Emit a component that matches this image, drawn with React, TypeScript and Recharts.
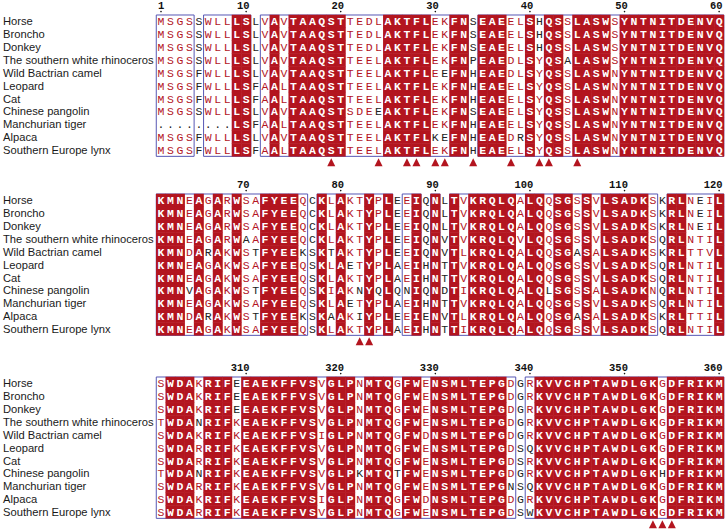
import { ScatterChart, Scatter, XAxis, YAxis, ReferenceArea } from "recharts";

// species shown on the left of every block
const SPECIES = [
  "Horse",
  "Broncho",
  "Donkey",
  "The southern white rhinoceros",
  "Wild Bactrian camel",
  "Leopard",
  "Cat",
  "Chinese pangolin",
  "Manchurian tiger",
  "Alpaca",
  "Southern Europe lynx",
];

// residues 1-60
const SEQ_A = [
  "MSGSSWLLLSLVAVTAAQSTTEDLAKTFLEKFNSEAEELSHQSSLASWSYNTNITDENVQ",
  "MSGSSWLLLSLVAVTAAQSTTEDLAKTFLEKFNSEAEELSHQSSLASWSYNTNITDENVQ",
  "MSGSSWLLLSLVAVTAAQSTTEDLAKTFLEKFNSEAEELSHQSSLASWSYNTNITDENVQ",
  "MSGSSWLLLSLVAVTAAQSTTEELAKTFLEKFNPEAEDLSYQSALASWSYNTNITDENVQ",
  "MSGSFWLLLSLVAVTAAQSTTEELAKTFLEEFNHEAEDLSYQSSLASWNYNTNITDENVQ",
  "MSGSFWLLLSFAALTAAQSTTEELAKTFLEKFNHEAEELSYQSSLASWNYNTNITDENVQ",
  "MSGSFWLLLSFAALTAAQSTTEELAKTFLEKFNHEAEELSYQSSLASWNYNTNITDENVQ",
  "MSGSSWLLLSLVAVTAAQSTSDEEAKTFLEKFNSEAEELSYQSSLASWNYNTNITDENVQ",
  "--------LSFAALTAAQSTTEELAKTFLEKFNHEAEELSYQSSLASWNYNTNITDENVQ",
  "MSGSFWLLLSLVAVTAAQSTTEELAKTFLKEFNHEAEDRSYQSSLASWNYNTNITDENVQ",
  "MSGSFWLLLSFAALTAAQSTTEELAKTFLEKFNHEAEELSYQSSLASWNYNTNITDENVQ",
];

// residues 61-120
const SEQ_B = [
  "KMNEAGARWSAFYEEQCKLAKTYPLEEIQNLTVKRQLQALQQSGSSVLSADKSKRLNEIL",
  "KMNEAGARWSAFYEEQCKLAKTYPLEEIQNLTVKRQLQALQQSGSSVLSADKSKRLNEIL",
  "KMNEAGARWSAFYEEQCKLAKTYPLEEIQNLTVKRQLQALQQSGSSVLSADKSKRLNEIL",
  "KMNEAGARWAAFYEEQCKLAKTYPLEEIQNVTVKRQLQVLQQSGSSVLSADKSQRLNTIL",
  "KMNDARAKWSTFYEEKSKTAKTYPLEEIQNVTLKRQLQALQQSGASALSADKSKRLTTVL",
  "KMNEAGAKWSAFYEEQSKLAETYPLAEIHNTTVKRQLQALQQSGSSVLSADKSQRLNTIL",
  "KMNEAGAKWSAFYEEQSKLAKTYPLAEIHNTTVKRQLQALQQSGSSVLSADKSQRLNTIL",
  "KMNVAGAKWSTFYEEQSKIAKNYQLQNIQNDTIKRQLQALQLSGSSALSADKNQRLNTIL",
  "KMNEAGAKWSAFYEEQSKLAETYPLAEIHNTTVKRQLQALQQSGSSVLSADKSQRLNTIL",
  "KMNDARAKWSTFYEEKSKAAKIYPLEEIENVTLKRQLQALQQSGASALSADKSKRLTTIL",
  "KMNEAGAKWSAFYEEQSKLAKTYPLAEIHNTTIKRQLQALQQSGSSVLSADKSQRLNTIL",
];

// residues 301-360
const SEQ_C = [
  "SWDAKRIFEEAEKFFVSVGLPNMTQGFWENSMLTEPGDGRKVVCHPTAWDLGKGDFRIKM",
  "SWDAKRIFEEAEKFFVSVGLPNMTQGFWENSMLTEPGDGRKVVCHPTAWDLGKGDFRIKM",
  "SWDAKRIFEEAEKFFVSVGLPNMTQGFWENSMLTEPGDGRKVVCHPTAWDLGKGDFRIKM",
  "TWDANRIFKEAEKFFVSVGLPNMTQGFWENSMLTEPGDGRKVVCHPTAWDLGKGDFRIKM",
  "SWDAKRIFKEAEKFFVSIGLPNMTQGFWDNSMLTEPGDGRKVVCHPTAWDLGKGDFRIKM",
  "SWDARRIFKEAEKFFVSVGLPNMTQGFWENSMLTEPGDSQKVVCHPTAWDLGKGDFRIKM",
  "SWDARRIFKEAEKFFVSVGLPNMTQGFWENSMLTEPGDSRKVVCHPTAWDLGKGDFRIKM",
  "TWDANRIFKEAEKFFVSVGLPKMTQTFWENSMLTEPGDGRKVVCHPTAWDLGKHDFRIKM",
  "SWDARRIFKEAEKFFVSVGLPNMTQGFWENSMLTEPGNSQKVVCHPTAWDLGKGDFRIKM",
  "SWDAKRIFKEAEKFFVSIGLPNMTQGFWDNSMLTEPGDGRKVVCHPTAWDLGKGDFRIKM",
  "SWDARRIFKEAEKFFVSVGLPNMTQGFWENSMLTEPGDSWKVVCHPTAWDLGKGDFRIKM",
];

// column class: R = strictly conserved, b = similar (boxed), n = none
const COLS_A = "bbbbnbbbRRnbRbRRRRRRbbbbRRRRRbbRRnRRRbbRbRRbRRRRbRRRRRRRRRRR";
const COLS_B = "RRRbRbRbRbbRRRRbnRbRbbRbRnbRnRnRbRRRRRbRRbRRbRbRRRRRbnRRbbbR";
const COLS_C = "bRRRbRRRbRRRRRRRRbRRRbRRRbRRbRRRRRRRRbnbRRRRRRRRRRRRRbRRRRRR";

// [row, column] residues left black inside a similar column
const BLACK_A = [[7, 24], [9, 30], [4, 31], [9, 31], [9, 39], [0, 41], [1, 41], [2, 41], [3, 44]];
const BLACK_B = [
  [7, 4], [4, 6], [9, 6], [3, 10], [4, 11], [7, 11], [9, 11], [4, 16], [9, 16],
  [4, 19], [9, 19], [5, 21], [8, 21], [7, 22], [9, 22], [7, 24], [7, 27], [7, 42],
  [4, 45], [9, 45], [0, 58], [1, 58], [2, 58],
];
const BLACK_C = [[3, 5], [7, 5], [0, 9], [1, 9], [2, 9], [7, 22], [7, 26], [8, 38], [5, 40], [8, 40], [10, 40], [7, 54]];

// columns marked with a triangle under each block
const TRI_A = [19, 24, 27, 28, 30, 31, 34, 38, 41, 42, 45];
const TRI_B = [22, 23];
const TRI_C = [53, 54, 55];

const START_A = 1;
const START_B = 61;
const START_C = 301;

const TICKS_A = [1, 10, 20, 30, 40, 50, 60];
const TICKS_BC = [10, 20, 30, 40, 50, 60];

const RED = "#B3151F";
const BLUE = "#5656B4";
const CW = 9.46;
const RH = 12.85;
const LEFT = 156.27;
const TOP = 14;

function buildCells(seqs: string[], cols: string, black: number[][]) {
  const off = new Set(black.map(([r, c]) => r + "-" + c));
  return seqs.flatMap((s, r) =>
    s.split("").map((ch, i) => ({
      x: i + 1,
      y: r,
      ch,
      cls: cols[i],
      black: off.has(r + "-" + (i + 1)),
    }))
  );
}

function boxRuns(cols: string) {
  const runs: [number, number][] = [];
  let st = -1;
  for (let i = 0; i <= cols.length; i++) {
    const inBox = i < cols.length && cols[i] !== "n";
    if (inBox && st < 0) st = i + 1;
    if (!inBox && st > 0) {
      runs.push([st, i]);
      st = -1;
    }
  }
  return runs;
}

function Residue(props: any) {
  const { cx, cy, payload } = props;
  const gap = payload.ch === "-";
  const ch = gap ? "." : payload.ch;
  if (payload.cls === "R") {
    return (
      <g>
        <rect x={cx - CW / 2 - 0.25} y={cy - RH / 2 - 0.25} width={CW + 0.5} height={RH + 0.5} fill={RED} />
        <text x={cx} y={cy + 4} textAnchor="middle" fontFamily="Liberation Mono" fontWeight="bold" fontSize={11.5} fill="#fff">
          {ch}
        </text>
      </g>
    );
  }
  const color = payload.cls === "b" && !payload.black && !gap ? RED : "#222";
  return (
    <text x={cx} y={cy + 4} textAnchor="middle" fontFamily="Liberation Mono" fontSize={11.5} fill={color}>
      {ch}
    </text>
  );
}

function Triangle(props: any) {
  const { cx, cy } = props;
  return <path d={`M${cx},${cy - 4.5}L${cx - 4},${cy + 3.5}L${cx + 4},${cy + 3.5}Z`} fill={RED} />;
}

function makeColTick(start: number) {
  return (props: any) => {
    const { x, payload } = props;
    return (
      <g>
        <text x={x + 3.4} y={TOP - 6} textAnchor="end" fontFamily="Liberation Mono" fontWeight="bold" fontSize={10.5} fill="#111">
          {start + payload.value - 1}
        </text>
        <circle cx={x} cy={TOP - 3.4} r={0.8} fill="#111" />
      </g>
    );
  };
}

function NameTick(props: any) {
  const { y, payload } = props;
  return (
    <text x={3} y={y + 4} fontFamily="Liberation Sans" fontSize={11.2} fill="#1a1a1a">
      {SPECIES[payload.value]}
    </text>
  );
}

function Block({ seqs, cols, black, tri, start, ticks, top }: any) {
  const cells = buildCells(seqs, cols, black);
  const marks = tri.map((c: number) => ({ x: c, y: 11 }));
  const runs = boxRuns(cols);
  const height = TOP + RH * 11.8;
  return (
    <div style={{ position: "absolute", left: 0, top }}>
      <ScatterChart width={726} height={height} margin={{ top: 0, right: 726 - LEFT - 60 * CW, bottom: 0, left: 0 }}>
        <XAxis
          type="number"
          dataKey="x"
          orientation="top"
          domain={[0.5, 60.5]}
          ticks={ticks}
          interval={0}
          height={TOP}
          axisLine={false}
          tickLine={false}
          tick={makeColTick(start)}
        />
        <YAxis
          type="number"
          dataKey="y"
          domain={[-0.5, 11.3]}
          reversed
          ticks={[0, 1, 2, 3, 4, 5, 6, 7, 8, 9, 10]}
          interval={0}
          width={LEFT}
          axisLine={false}
          tickLine={false}
          tick={NameTick}
        />
        <Scatter data={cells} shape={Residue} isAnimationActive={false} />
        {runs.map(([a, b]) => (
          <ReferenceArea
            key={a}
            x1={a - 0.5}
            x2={b + 0.5}
            y1={-0.5}
            y2={10.5}
            fill="none"
            fillOpacity={0}
            stroke={BLUE}
            strokeWidth={1}
            ifOverflow="visible"
          />
        ))}
        <Scatter data={marks} shape={Triangle} isAnimationActive={false} />
      </ScatterChart>
    </div>
  );
}

export default function App() {
  return (
    <div style={{ position: "fixed", left: 0, top: 0, width: 726, height: 532, overflow: "hidden", background: "#fff" }}>
      <Block seqs={SEQ_A} cols={COLS_A} black={BLACK_A} tri={TRI_A} start={START_A} ticks={TICKS_A} top={1} />
      <Block seqs={SEQ_B} cols={COLS_B} black={BLACK_B} tri={TRI_B} start={START_B} ticks={TICKS_BC} top={180} />
      <Block seqs={SEQ_C} cols={COLS_C} black={BLACK_C} tri={TRI_C} start={START_C} ticks={TICKS_BC} top={363} />
    </div>
  );
}
